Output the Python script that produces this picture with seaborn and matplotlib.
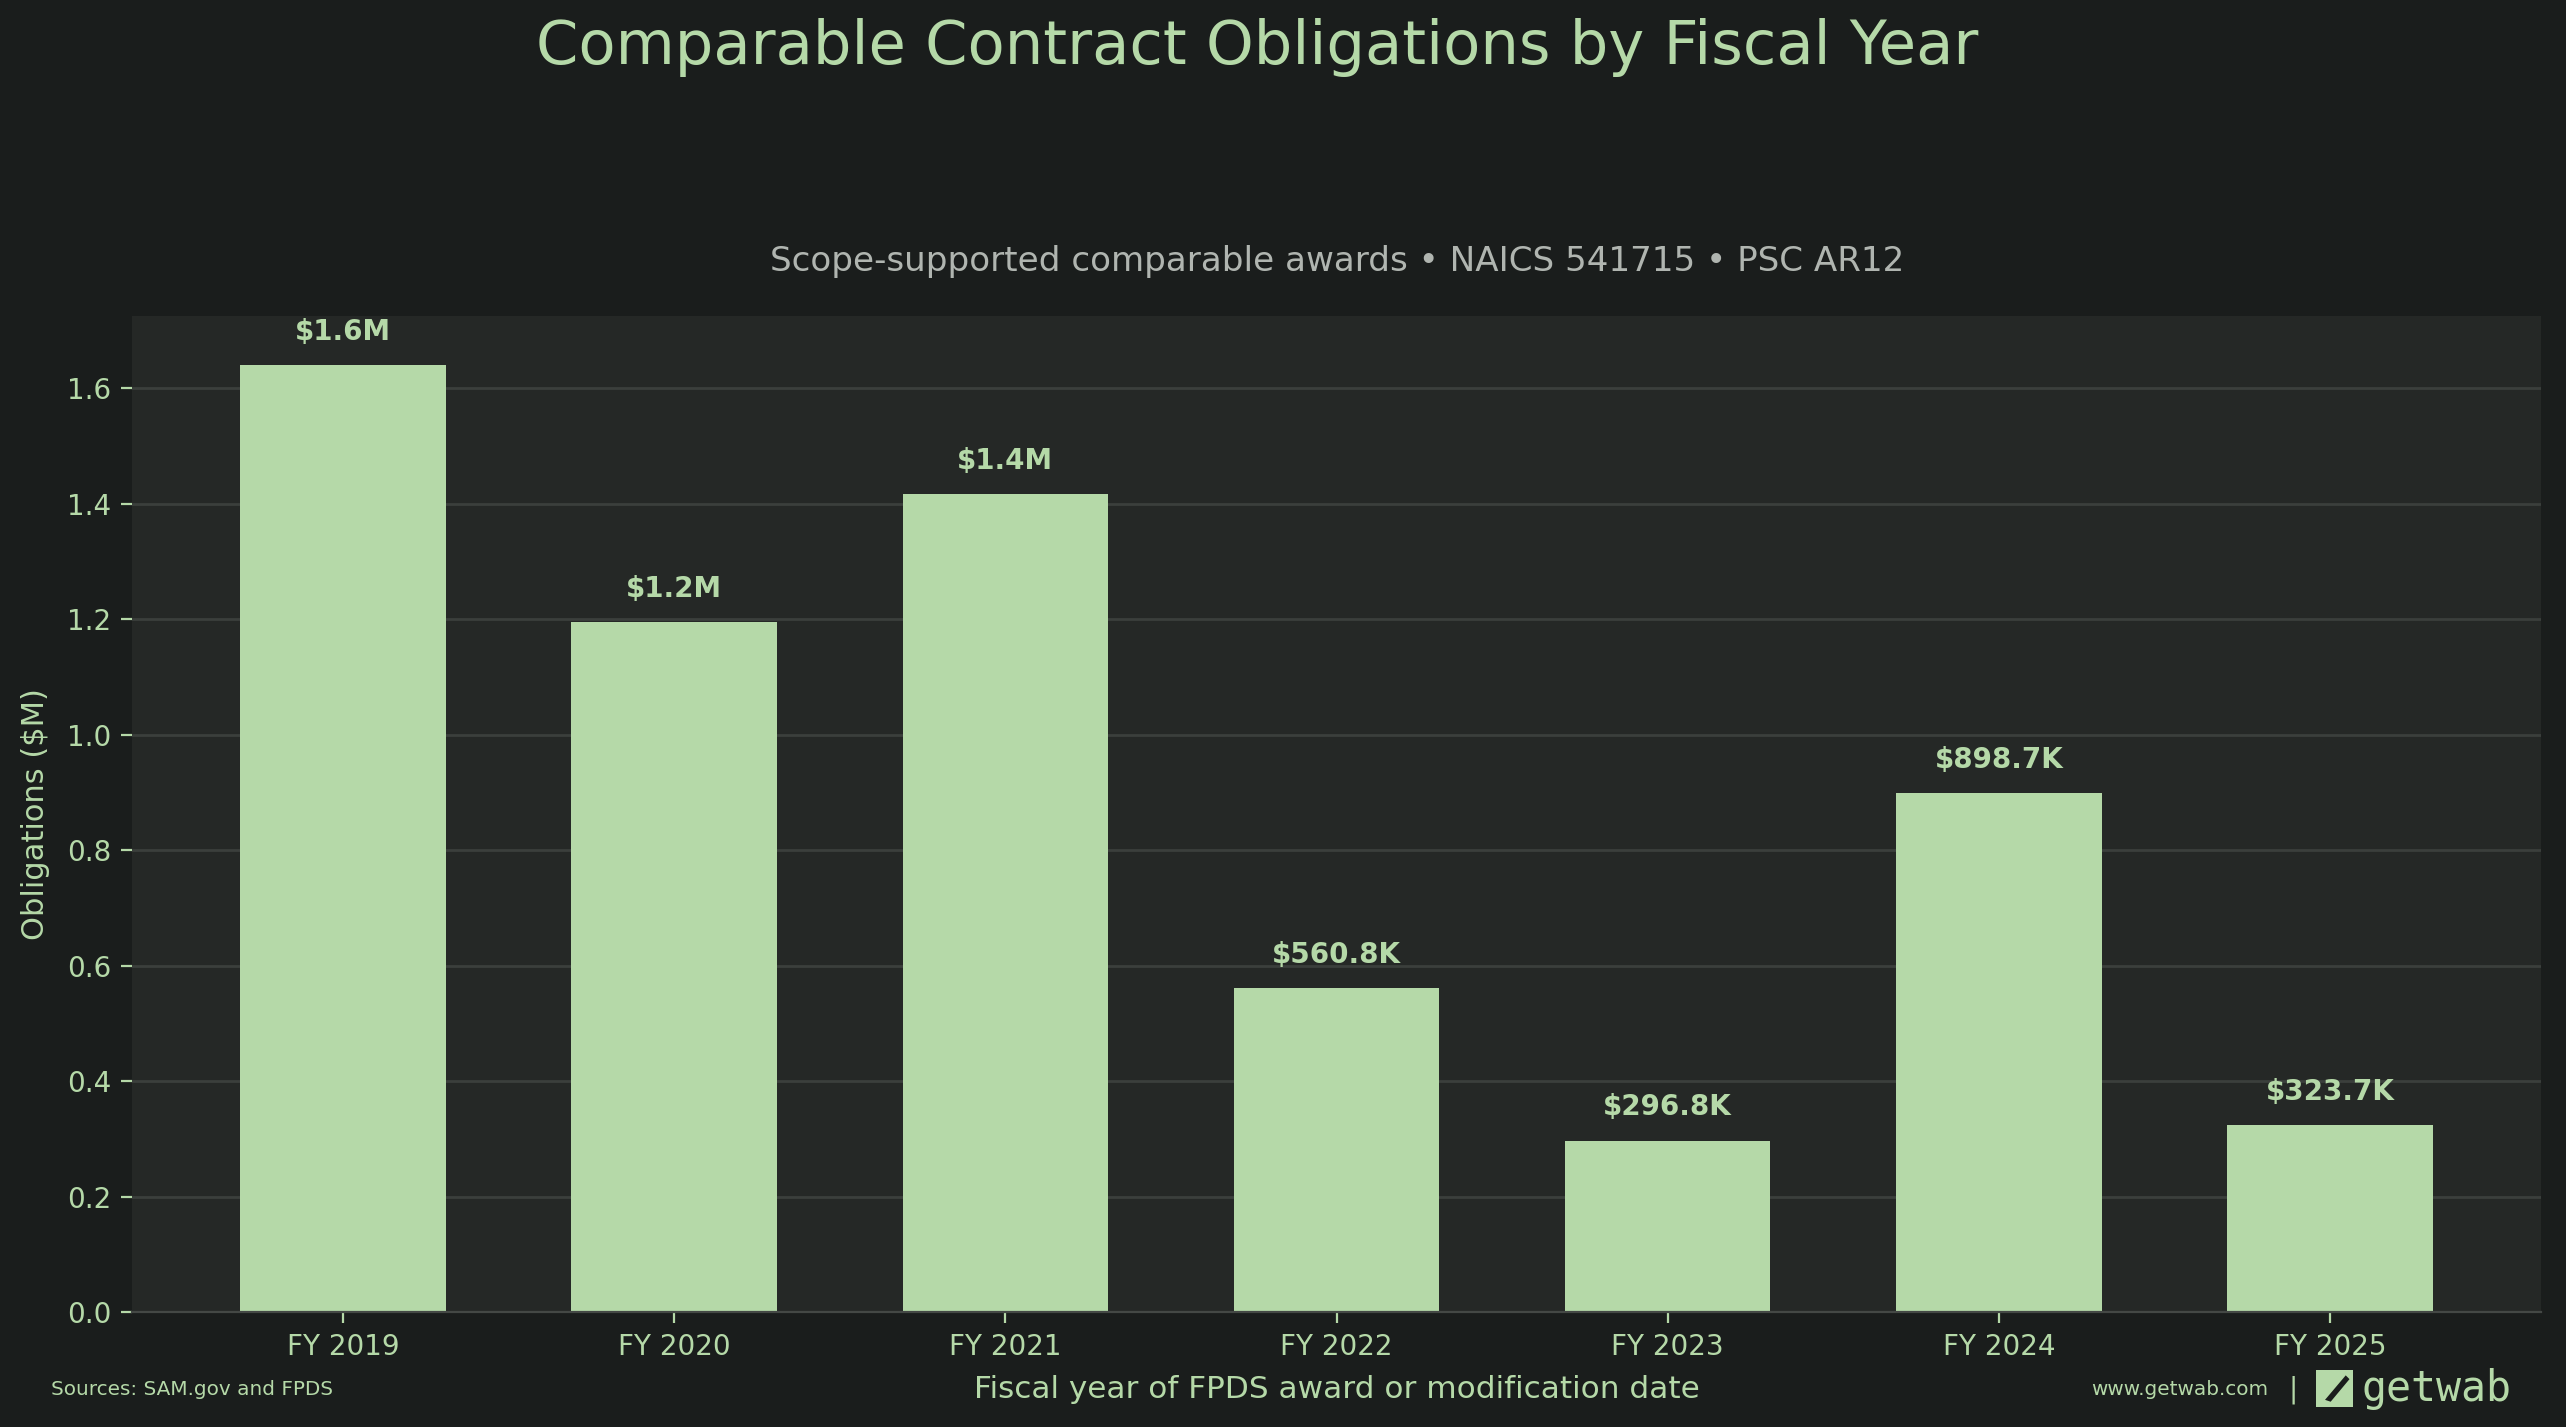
import matplotlib
matplotlib.use("Agg")
import matplotlib.pyplot as plt
import seaborn as sns
import pandas as pd
from matplotlib.patches import Rectangle, Polygon

years = ["FY 2019", "FY 2020", "FY 2021", "FY 2022", "FY 2023", "FY 2024", "FY 2025"]
obligations_m = [1.640, 1.195, 1.416, 0.5608, 0.2968, 0.8987, 0.3237]
value_labels = ["$1.6M", "$1.2M", "$1.4M", "$560.8K", "$296.8K", "$898.7K", "$323.7K"]

FIG_BG = "#1a1d1c"
AX_BG = "#252826"
BAR = "#b5d9a8"
TEXT = "#b5d9a8"
SUB = "#b0b5b0"
GRID = "#3b3f3c"

sns.set_theme(style="darkgrid")
plt.rcParams["font.family"] = ["DejaVu Sans"]

df = pd.DataFrame({"year": years, "value": obligations_m})

fig = plt.figure(figsize=(12.83, 7.135), dpi=200, facecolor=FIG_BG)
ax = fig.add_axes([132 / 2566, 1 - 1312 / 1427, (2541 - 132) / 2566, (1312 - 316) / 1427])
ax.set_facecolor(AX_BG)

sns.barplot(data=df, x="year", y="value", color=BAR, saturation=1, width=0.62, ax=ax,
            linewidth=0, edgecolor="none")

ax.set_xlim(-0.637, 6.637)
ax.set_ylim(0, 1.725)
ax.set_yticks([0.0, 0.2, 0.4, 0.6, 0.8, 1.0, 1.2, 1.4, 1.6])
ax.yaxis.set_major_formatter(matplotlib.ticker.FormatStrFormatter("%.1f"))
ax.grid(axis="y", color=GRID, linewidth=1.0)
ax.grid(axis="x", visible=False)
ax.set_axisbelow(True)
for s in ["top", "right", "left"]:
    ax.spines[s].set_visible(False)
ax.spines["bottom"].set_visible(True)
ax.spines["bottom"].set_color("#444845")
ax.spines["bottom"].set_linewidth(0.8)

ax.tick_params(axis="both", colors=TEXT, labelcolor=TEXT, labelsize=10, length=4, width=0.8,
               bottom=True, left=True)

for i, (v, lab) in enumerate(zip(obligations_m, value_labels)):
    ax.annotate(lab, (i, v), xytext=(0, 7), textcoords="offset points",
                ha="center", va="bottom", color=TEXT, fontsize=10, fontweight="bold")

ax.set_xlabel("Fiscal year of FPDS award or modification date", color=TEXT, fontsize=11.2, labelpad=5)
ax.set_ylabel("Obligations ($M)", color=TEXT, fontsize=11, labelpad=6)

fig.text(768 / 1568, 1 - 29 / 872, "Comparable Contract Obligations by Fiscal Year", ha="center", va="center",
         color=TEXT, fontsize=21.9)
fig.text(817 / 1568, 1 - 160 / 872, "Scope-supported comparable awards \u2022 NAICS 541715 \u2022 PSC AR12",
         ha="center", va="center", color=SUB, fontsize=12.3)

fig.text(31 / 1568, 1 - 849 / 872, "Sources: SAM.gov and FPDS", ha="left", va="center",
         color=TEXT, fontsize=7.2)
fig.text(1386 / 1568, 1 - 849 / 872, "www.getwab.com", ha="right", va="center",
         color=TEXT, fontsize=7.2)
fig.text(1401 / 1568, 1 - 849 / 872, "|", ha="center", va="center", color=TEXT, fontsize=10)
# logo icon
lx0, ly0 = 1415 / 1568, 1 - 860 / 872
lw, lh = 23 / 1568, 23 / 872
fig.patches.append(Rectangle((lx0, ly0), lw, lh, transform=fig.transFigure,
                             facecolor=BAR, edgecolor="none"))
fig.patches.append(Polygon([(lx0 + lw * 0.25, ly0 + lh * 0.2), (lx0 + lw * 0.8, ly0 + lh * 0.85),
                            (lx0 + lw * 0.9, ly0 + lh * 0.75), (lx0 + lw * 0.4, ly0 + lh * 0.15)],
                           closed=True, transform=fig.transFigure, facecolor=FIG_BG, edgecolor="none"))
fig.text(1443 / 1568, 1 - 849 / 872, "getwab", ha="left", va="center", color=BAR,
         fontsize=15, family=["DejaVu Sans Mono", "DejaVu Sans"])

fig.savefig("out.png", dpi=200, facecolor=FIG_BG)
